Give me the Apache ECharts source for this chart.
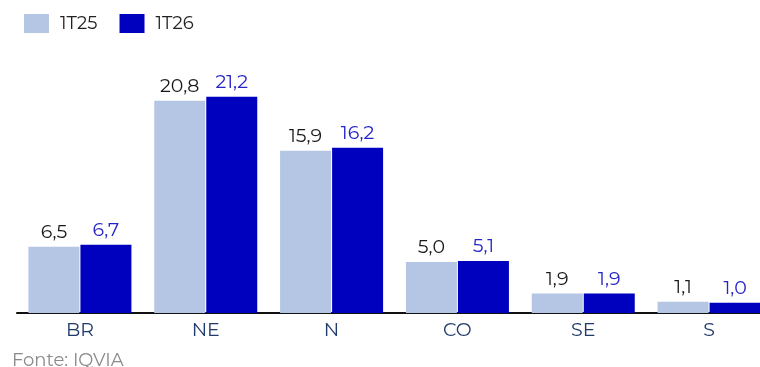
<!DOCTYPE html>
<html lang="pt">
<head>
<meta charset="UTF-8">
<style>
  html, body { margin: 0; height: 100%; background: #fff; }
  #chart { width: 760px; height: 367px; }
</style>
</head>
<body>
<div id="chart"></div>
<script src="https://cdn.jsdelivr.net/npm/echarts@6/dist/echarts.min.js"></script>
<script>
var regioes = ['BR', 'NE', 'N', 'CO', 'SE', 'S'];
var serie1T25 = [6.5, 20.8, 15.9, 5.0, 1.9, 1.1];
var serie1T26 = [6.7, 21.2, 16.2, 5.1, 1.9, 1.0];

var fonte = 'Montserrat, "DejaVu Sans", sans-serif';
function rotulo(p) { return p.value.toFixed(1).replace('.', ','); }

var chart = echarts.init(document.getElementById('chart'));
chart.setOption({
    animation: false,
    textStyle: { fontFamily: fonte },
    legend: {
        left: 19, top: 9,
        itemWidth: 25, itemHeight: 19, itemGap: 22,
        icon: 'rect',
        textStyle: { fontSize: 18, color: '#222', fontFamily: fonte, padding: [0, 0, 0, 6] },
        data: ['1T25', '1T26']
    },
    // a ultima barra passa da borda direita, como no original
    grid: { left: 17, width: 755, top: 58, bottom: 54, outerBoundsMode: 'none' },
    xAxis: {
        type: 'category',
        data: regioes,
        axisLine: { lineStyle: { color: '#111', width: 2 } },
        axisTick: { show: false },
        axisLabel: { fontSize: 19, color: '#1f3a6b', margin: 8, fontFamily: fonte }
    },
    yAxis: {
        type: 'value', min: 0, max: 25,
        show: false,
        splitLine: { show: false }
    },
    series: [
        {
            name: '1T25', type: 'bar', data: serie1T25,
            barWidth: 51, barGap: '2%',
            itemStyle: { color: '#b4c6e4' },
            label: { show: true, position: 'top', distance: 5, fontSize: 19, color: '#1a1a1a', fontFamily: fonte, formatter: rotulo }
        },
        {
            name: '1T26', type: 'bar', data: serie1T26,
            barWidth: 51,
            itemStyle: { color: '#0000bf' },
            label: { show: true, position: 'top', distance: 5, fontSize: 19, color: '#2424c8', fontFamily: fonte, formatter: rotulo }
        }
    ],
    graphic: [{
        type: 'text', left: 12, top: 352,
        style: { text: 'Fonte: IQVIA', fontSize: 18, fill: '#8a8a8a', fontFamily: fonte }
    }]
});
</script>
</body>
</html>
